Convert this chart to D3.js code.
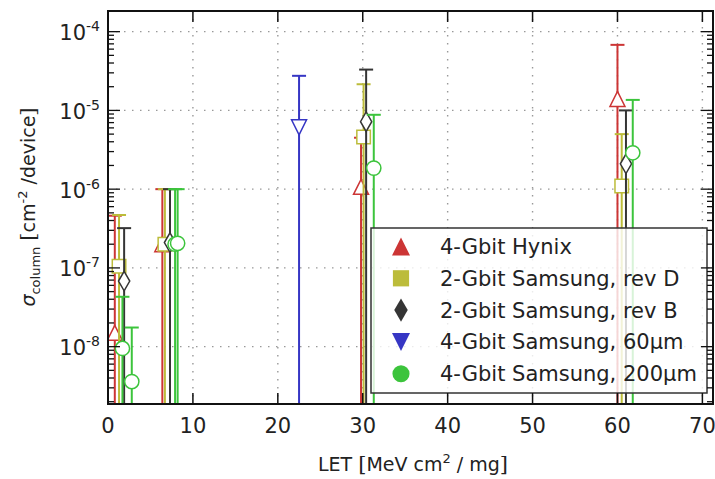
<!DOCTYPE html>
<html>
<head>
<meta charset="utf-8">
<script src="https://cdn.jsdelivr.net/npm/d3@7"></script>
<style>
  body { margin: 0; background: #fff; }
  text { font-family: "DejaVu Sans", sans-serif; fill: #222; }
</style>
</head>
<body>
<svg id="chart" width="715" height="479"></svg>
<script>
// ---- data: LET [MeV cm^2/mg], column cross-section [cm^-2/device], upper error limit ----
const seriesNames  = ["4-Gbit Hynix", "2-Gbit Samsung, rev D", "2-Gbit Samsung, rev B",
                      "4-Gbit Samsung, 60\u00b5m", "4-Gbit Samsung, 200\u00b5m"];
const seriesColors = ["#cc3535", "#bcbc3a", "#353535", "#3636c4", "#3cc43c"];
const seriesSymbols = ["triangleUp", "square", "thinDiamond", "triangleDown", "circle"];

const hynixLET    = [0.8, 6.4, 29.8, 60.0];
const hynixSigma  = [1.5e-8, 2.0e-7, 1.07e-6, 1.4e-5];
const hynixUpper  = [4.6e-7, 1.0e-6, 4.5e-6, 6.8e-5];

const revDLET     = [1.3, 6.7, 30.1, 60.5];
const revDSigma   = [1.05e-7, 2.0e-7, 4.6e-6, 1.1e-6];
const revDUpper   = [4.7e-7, 1.0e-6, 2.15e-5, 5.0e-6];

const revBLET     = [1.9, 7.3, 30.4, 61.0];
const revBSigma   = [6.8e-8, 2.1e-7, 7.2e-6, 2.1e-6];
const revBUpper   = [3.2e-7, 1.0e-6, 3.3e-5, 1.0e-5];

const s60LET      = [22.5];
const s60Sigma    = [6.1e-6];
const s60Upper    = [2.75e-5];

const s200LET     = [1.7, 2.8, 7.9, 8.2, 31.3, 61.8];
const s200Sigma   = [9.5e-9, 3.6e-9, 2.0e-7, 2.05e-7, 1.85e-6, 2.9e-6];
const s200Upper   = [4.3e-8, 1.75e-8, 1.0e-6, 1.0e-6, 8.8e-6, 1.36e-5];

// lower error limits reach below the axis for every point
const lowerLimit = 0;

const xTickValues = [0, 10, 20, 30, 40, 50, 60, 70];
const yTickExponents = [-8, -7, -6, -5, -4];
const xDomain = [0, 71.25];
const yDomain = [1.87e-9, 1.83e-4];

const seriesData = [
  [hynixLET, hynixSigma, hynixUpper],
  [revDLET, revDSigma, revDUpper],
  [revBLET, revBSigma, revBUpper],
  [s60LET, s60Sigma, s60Upper],
  [s200LET, s200Sigma, s200Upper]
].map(([lets, sig, up], i) => ({
  name: seriesNames[i], color: seriesColors[i], symbol: seriesSymbols[i],
  points: lets.map((l, j) => ({ x: l, y: sig[j], hi: up[j], lo: lowerLimit }))
}));

// ---- layout ----
const svg = d3.select("#chart");
const plot = { left: 108, right: 713, top: 11, bottom: 404 };

const x = d3.scaleLinear().domain(xDomain).range([plot.left, plot.right]);
const y = d3.scaleLog().domain(yDomain).range([plot.bottom, plot.top]);

svg.append("defs").append("clipPath").attr("id", "plotClip")
  .append("rect")
  .attr("x", plot.left).attr("y", plot.top)
  .attr("width", plot.right - plot.left).attr("height", plot.bottom - plot.top);

// ---- grid ----
const grid = svg.append("g").attr("stroke", "#999").attr("stroke-width", 1.4)
  .attr("stroke-dasharray", "1.5,6.5");
xTickValues.filter(v => v > 0).forEach(v => {
  grid.append("line").attr("x1", x(v)).attr("x2", x(v))
    .attr("y1", plot.top).attr("y2", plot.bottom);
});
yTickExponents.forEach(e => {
  grid.append("line").attr("x1", plot.left).attr("x2", plot.right)
    .attr("y1", y(Math.pow(10, e))).attr("y2", y(Math.pow(10, e)));
});

// ---- marker shapes ----
function symbolPath(kind, s) {
  const h = s / 2;
  switch (kind) {
    case "triangleUp":   return `M0,${-h}L${h},${h}L${-h},${h}Z`;
    case "triangleDown": return `M0,${h}L${h},${-h}L${-h},${-h}Z`;
    case "square":       return `M${-h * 0.9},${-h * 0.9}H${h * 0.9}V${h * 0.9}H${-h * 0.9}Z`;
    case "thinDiamond":  return `M0,${-h * 1.3}L${h * 0.75},0L0,${h * 1.3}L${-h * 0.75},0Z`;
    case "circle": {
      const p = d3.path();
      p.arc(0, 0, h * 0.95, 0, 2 * Math.PI);
      p.closePath();
      return p.toString();
    }
  }
}

// ---- error bars and markers ----
const dataLayer = svg.append("g").attr("clip-path", "url(#plotClip)");
const capHalf = 7;
seriesData.forEach(s => {
  const g = dataLayer.append("g");
  s.points.forEach(p => {
    const yLo = p.lo > 0 ? y(p.lo) : plot.bottom + 5;
    g.append("line").attr("x1", x(p.x)).attr("x2", x(p.x))
      .attr("y1", yLo).attr("y2", y(p.hi))
      .attr("stroke", s.color).attr("stroke-width", 2);
    g.append("line").attr("x1", x(p.x) - capHalf).attr("x2", x(p.x) + capHalf)
      .attr("y1", y(p.hi)).attr("y2", y(p.hi))
      .attr("stroke", s.color).attr("stroke-width", 2);
  });
  s.points.forEach(p => {
    g.append("path").attr("d", symbolPath(s.symbol, 15))
      .attr("transform", `translate(${x(p.x)},${y(p.y)})`)
      .attr("fill", "#fff").attr("stroke", s.color).attr("stroke-width", 1.5);
  });
});

// ---- legend ----
const legend = svg.append("g");
legend.append("rect").attr("x", 371).attr("y", 228).attr("width", 336).attr("height", 165)
  .attr("fill", "#fff").attr("fill-opacity", 0.8)
  .attr("stroke", "#333").attr("stroke-width", 1.5);
seriesData.forEach((s, i) => {
  const cy = 246.5 + i * 31.8;
  legend.append("path").attr("d", symbolPath(s.symbol, 18))
    .attr("transform", `translate(401,${cy})`)
    .attr("fill", s.color).attr("stroke", "none");
  legend.append("text").attr("x", 440).attr("y", cy + 7.5)
    .attr("font-size", 21).text(s.name);
});

// ---- spines and ticks ----
const axes = svg.append("g").attr("stroke", "#111");
axes.append("rect").attr("x", plot.left).attr("y", plot.top)
  .attr("width", plot.right - plot.left).attr("height", plot.bottom - plot.top)
  .attr("fill", "none").attr("stroke-width", 2);

xTickValues.forEach(v => {
  axes.append("line").attr("x1", x(v)).attr("x2", x(v))
    .attr("y1", plot.bottom).attr("y2", plot.bottom - 11).attr("stroke-width", 1.5);
  axes.append("line").attr("x1", x(v)).attr("x2", x(v))
    .attr("y1", plot.top).attr("y2", plot.top + 11).attr("stroke-width", 1.5);
});

const yTicksAll = [];
for (let e = -9; e <= -4; e++) {
  for (let m = 1; m <= 9; m++) {
    const v = m * Math.pow(10, e);
    if (v >= yDomain[0] && v <= yDomain[1]) yTicksAll.push({ v, major: m === 1 });
  }
}
yTicksAll.forEach(t => {
  const len = t.major ? 12 : 6;
  const yy = y(t.v);
  axes.append("line").attr("x1", plot.left).attr("x2", plot.left + len)
    .attr("y1", yy).attr("y2", yy).attr("stroke-width", 1.3);
  axes.append("line").attr("x1", plot.right).attr("x2", plot.right - len)
    .attr("y1", yy).attr("y2", yy).attr("stroke-width", 1.3);
});

// tick labels
xTickValues.forEach(v => {
  svg.append("text").attr("x", x(v)).attr("y", 433)
    .attr("text-anchor", "middle").attr("font-size", 21).text(v);
});
yTickExponents.forEach(e => {
  const t = svg.append("text").attr("x", 100).attr("y", y(Math.pow(10, e)) + 8.5)
    .attr("text-anchor", "end").attr("font-size", 21);
  t.append("tspan").text("10");
  t.append("tspan").attr("dy", -9).attr("font-size", 14).text(String(e));
});

// axis titles
const xl = svg.append("text").attr("x", 413).attr("y", 471)
  .attr("text-anchor", "middle").attr("font-size", 19);
xl.append("tspan").text("LET ");
xl.append("tspan").attr("font-family", "DejaVu Serif").attr("font-size", 21).text("[");
xl.append("tspan").text("MeV cm");
xl.append("tspan").attr("dy", -8).attr("font-size", 13).text("2");
xl.append("tspan").attr("dy", 8).text(" / mg");
xl.append("tspan").attr("font-family", "DejaVu Serif").attr("font-size", 21).text("]");

const yl = svg.append("text").attr("transform", "translate(35,207) rotate(-90)")
  .attr("text-anchor", "middle").attr("font-size", 19);
yl.append("tspan").attr("font-style", "italic").text("\u03c3");
yl.append("tspan").attr("dy", 5).attr("font-size", 13).text("column");
yl.append("tspan").attr("dy", -5).text(" ");
yl.append("tspan").attr("font-family", "DejaVu Serif").attr("font-size", 21).text("[");
yl.append("tspan").text("cm");
yl.append("tspan").attr("dy", -8).attr("font-size", 13).text("-2");
yl.append("tspan").attr("dy", 8).text(" /device");
yl.append("tspan").attr("font-family", "DejaVu Serif").attr("font-size", 21).text("]");
</script>
</body>
</html>
